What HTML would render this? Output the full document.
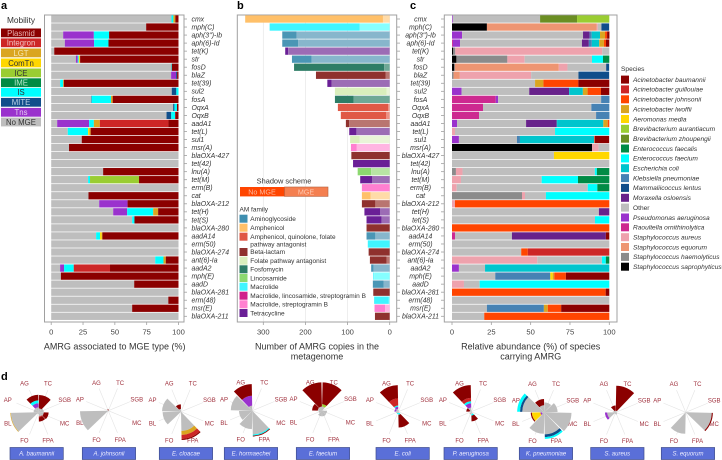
<!DOCTYPE html>
<html lang="en">
<head>
<meta charset="utf-8">
<title>AMRG mobility, copies, species and resistance profiles</title>
<style>
html,body{margin:0;padding:0;background:#fff;}
svg{display:block;font-family:"Liberation Sans",sans-serif;}
.pl{font-size:11px;font-weight:bold;fill:#000;}
.ax{font-size:9px;fill:#333;text-anchor:middle;}
.tk{font-size:7.6px;fill:#444;text-anchor:middle;}
.mb{font-size:7.8px;text-anchor:middle;}
.am{font-size:6.5px;fill:#333;}
.sp{font-size:6.6px;fill:#333;font-style:italic;}
.chip{font-size:6px;fill:#eef;font-style:italic;text-anchor:middle;}
</style>
</head>
<body>
<svg id="fig" width="722" height="460" viewBox="0 0 722 460" xmlns="http://www.w3.org/2000/svg">
<rect width="722" height="460" fill="#fff"/>

<text class="pl" x="1" y="9">a</text>
<text class="pl" x="237" y="9">b</text>
<text class="pl" x="410" y="9">c</text>
<text class="pl" x="1" y="380">d</text>

<g>
<text x="21" y="23" font-size="8.3" fill="#333" text-anchor="middle">Mobility</text>
<rect x="1" y="28.5" width="40" height="8.8" fill="#8b0000"/><text class="mb" x="21" y="35.8" fill="#e8b0b0">Plasmid</text>
<rect x="1" y="38.4" width="40" height="8.8" fill="#cd2626"/><text class="mb" x="21" y="45.6" fill="#f2c0c0">Integron</text>
<rect x="1" y="48.5" width="40" height="8.8" fill="#daa520"/><text class="mb" x="21" y="55.8" fill="#f6e6b0">LGT</text>
<rect x="1" y="58.5" width="40" height="8.8" fill="#ffd700"/><text class="mb" x="21" y="65.8" fill="#333">ComTn</text>
<rect x="1" y="68.5" width="40" height="8.8" fill="#9acd32"/><text class="mb" x="21" y="75.8" fill="#333">ICE</text>
<rect x="1" y="78.3" width="40" height="8.8" fill="#008b45"/><text class="mb" x="21" y="85.6" fill="#b8e8cc">IME</text>
<rect x="1" y="87.9" width="40" height="8.8" fill="#00ffff"/><text class="mb" x="21" y="95.2" fill="#333">IS</text>
<rect x="1" y="97.9" width="40" height="8.8" fill="#104e8b"/><text class="mb" x="21" y="105.2" fill="#c0d4e8">MITE</text>
<rect x="1" y="107.9" width="40" height="8.8" fill="#9a32cd"/><text class="mb" x="21" y="115.2" fill="#e6ccf2">Tns</text>
<rect x="1" y="117.6" width="40" height="8.8" fill="#bebebe"/><text class="mb" x="21" y="124.9" fill="#333">No MGE</text>
</g>

<g id="panelA"></g>
<g id="panelB"></g>
<g id="panelC"></g>
<g id="panelD"></g>

<text class="ax" x="114.7" y="349.5">AMRG associated to MGE type (%)</text>
<text class="ax" x="317" y="349.5">Number of AMRG copies in the</text>
<text class="ax" x="317" y="359.5">metagenome</text>
<text class="ax" x="530.7" y="349.5">Relative abundance (%) of species</text>
<text class="ax" x="530.7" y="359.5">carrying AMRG</text>

<g>
<text x="284" y="183.5" font-size="7.4" fill="#333" text-anchor="middle">Shadow scheme</text>
<rect x="240" y="187" width="44.5" height="9.4" fill="#ff4500"/>
<rect x="284.5" y="187" width="43.5" height="9.4" fill="#f47f50" stroke="#b5603c" stroke-width=".6"/>
<text x="262" y="194.3" font-size="7.2" fill="#ffb99c" text-anchor="middle">No MGE</text>
<text x="306" y="194.3" font-size="7.2" fill="#ffc9b0" text-anchor="middle">MGE</text>
</g>

<g>
<text class="am" x="239.5" y="211.5">AM family</text>
<rect x="239.5" y="214.7" width="8" height="8" fill="#3f8fb0"/><text class="am" x="250.3" y="221">Aminoglycoside</text>
<rect x="239.5" y="223.7" width="8" height="8" fill="#ffc069"/><text class="am" x="250.3" y="230">Amphenicol</text>
<rect x="239.5" y="232.7" width="8" height="8" fill="#e05846"/><text class="am" x="250.3" y="239">Amphenicol, quinolone, folate</text><text class="am" x="250.3" y="246.5">pathway antagonist</text>
<rect x="239.5" y="248" width="8" height="8" fill="#8f312e"/><text class="am" x="250.3" y="254.2">Beta-lactam</text>
<rect x="239.5" y="256.7" width="8" height="8" fill="#d9eebc"/><text class="am" x="250.3" y="263">Folate pathway antagonist</text>
<rect x="239.5" y="265.3" width="8" height="8" fill="#2e7d66"/><text class="am" x="250.3" y="271.6">Fosfomycin</text>
<rect x="239.5" y="274" width="8" height="8" fill="#8cd870"/><text class="am" x="250.3" y="280.3">Lincosamide</text>
<rect x="239.5" y="282.7" width="8" height="8" fill="#40f5ff"/><text class="am" x="250.3" y="289">Macrolide</text>
<rect x="239.5" y="291.7" width="8" height="8" fill="#d0228c"/><text class="am" x="250.3" y="298">Macrolide, lincosamide, streptogramin B</text>
<rect x="239.5" y="300.3" width="8" height="8" fill="#ff7fd0"/><text class="am" x="250.3" y="306.6">Macrolide, streptogramin B</text>
<rect x="239.5" y="309" width="8" height="8" fill="#6a1f96"/><text class="am" x="250.3" y="315.3">Tetracycline</text>
</g>

<g>
<text x="621" y="71" font-size="6.6" fill="#333">Species</text>
<rect x="621" y="75.6" width="8" height="8" fill="#8b0000"/><text class="sp" x="633" y="81.9">Acinetobacter baumannii</text>
<rect x="621" y="85.4" width="8" height="8" fill="#cd2626"/><text class="sp" x="633" y="91.7">Acinetobacter guillouiae</text>
<rect x="621" y="95.3" width="8" height="8" fill="#ff4500"/><text class="sp" x="633" y="101.6">Acinetobacter johnsonii</text>
<rect x="621" y="105.1" width="8" height="8" fill="#daa520"/><text class="sp" x="633" y="111.4">Acinetobacter lwoffii</text>
<rect x="621" y="115" width="8" height="8" fill="#ffd700"/><text class="sp" x="633" y="121.3">Aeromonas media</text>
<rect x="621" y="124.8" width="8" height="8" fill="#9acd32"/><text class="sp" x="633" y="131.1">Brevibacterium aurantiacum</text>
<rect x="621" y="134.7" width="8" height="8" fill="#6b8e23"/><text class="sp" x="633" y="141">Brevibacterium zhoupengii</text>
<rect x="621" y="144.5" width="8" height="8" fill="#008b45"/><text class="sp" x="633" y="150.8">Enterococcus faecalis</text>
<rect x="621" y="154.4" width="8" height="8" fill="#00ffff"/><text class="sp" x="633" y="160.7">Enterococcus faecium</text>
<rect x="621" y="164.2" width="8" height="8" fill="#00c5cd"/><text class="sp" x="633" y="170.5">Escherichia coli</text>
<rect x="621" y="174.1" width="8" height="8" fill="#4682b4"/><text class="sp" x="633" y="180.4">Klebsiella pneumoniae</text>
<rect x="621" y="183.9" width="8" height="8" fill="#104e8b"/><text class="sp" x="633" y="190.2">Mammaliicoccus lentus</text>
<rect x="621" y="193.8" width="8" height="8" fill="#68228b"/><text class="sp" x="633" y="200.1">Moraxella osloensis</text>
<rect x="621" y="203.6" width="8" height="8" fill="#bebebe"/><text class="sp" x="633" y="209.9" font-style="normal" style="font-style:normal">Other</text>
<rect x="621" y="213.5" width="8" height="8" fill="#9a32cd"/><text class="sp" x="633" y="219.8">Pseudomonas aeruginosa</text>
<rect x="621" y="223.3" width="8" height="8" fill="#cd2990"/><text class="sp" x="633" y="229.6">Raoultella ornithinolytica</text>
<rect x="621" y="233.2" width="8" height="8" fill="#eea2ad"/><text class="sp" x="633" y="239.5">Staphylococcus aureus</text>
<rect x="621" y="243" width="8" height="8" fill="#ee9572"/><text class="sp" x="633" y="249.3">Staphylococcus equorum</text>
<rect x="621" y="252.9" width="8" height="8" fill="#8b8b8b"/><text class="sp" x="633" y="259.2">Staphylococcus haemolyticus</text>
<rect x="621" y="262.7" width="8" height="8" fill="#000"/><text class="sp" x="633" y="269">Staphylococcus saprophyticus</text>
</g>

<g>
<rect x="10" y="447.5" width="53.3" height="12" fill="#5a6fd8" stroke="#3f4c8c" stroke-width=".7"/><text class="chip" x="36.7" y="455.7">A. baumannii</text>
<rect x="82.3" y="447.5" width="53.3" height="12" fill="#5a6fd8" stroke="#3f4c8c" stroke-width=".7"/><text class="chip" x="109" y="455.7">A. johnsonii</text>
<rect x="159.3" y="447.5" width="53.3" height="12" fill="#5a6fd8" stroke="#3f4c8c" stroke-width=".7"/><text class="chip" x="186" y="455.7">E. cloacae</text>
<rect x="224.3" y="447.5" width="53.3" height="12" fill="#5a6fd8" stroke="#3f4c8c" stroke-width=".7"/><text class="chip" x="251" y="455.7">E. hormaechei</text>
<rect x="296.3" y="447.5" width="53.3" height="12" fill="#5a6fd8" stroke="#3f4c8c" stroke-width=".7"/><text class="chip" x="323" y="455.7">E. faecium</text>
<rect x="376" y="447.5" width="53.3" height="12" fill="#5a6fd8" stroke="#3f4c8c" stroke-width=".7"/><text class="chip" x="402.7" y="455.7">E. coli</text>
<rect x="444" y="447.5" width="53.3" height="12" fill="#5a6fd8" stroke="#3f4c8c" stroke-width=".7"/><text class="chip" x="470.7" y="455.7">P. aeruginosa</text>
<rect x="519.3" y="447.5" width="53.3" height="12" fill="#5a6fd8" stroke="#3f4c8c" stroke-width=".7"/><text class="chip" x="546" y="455.7">K. pneumoniae</text>
<rect x="590.7" y="447.5" width="53.3" height="12" fill="#5a6fd8" stroke="#3f4c8c" stroke-width=".7"/><text class="chip" x="617.3" y="455.7">S. aureus</text>
<rect x="661.3" y="447.5" width="53.3" height="12" fill="#5a6fd8" stroke="#3f4c8c" stroke-width=".7"/><text class="chip" x="688" y="455.7">S. equorum</text>
</g>
</svg>

<script>
const genes = ["cmx","mph(C)","aph(3'')-Ib","aph(6)-Id","tet(K)","str","fosD","blaZ","tet(39)","sul2","fosA","OqxA","OqxB","aadA1","tet(L)","sul1","msr(A)","blaOXA-427","tet(42)","lnu(A)","tet(M)","erm(B)","cat","blaOXA-212","tet(H)","tet(S)","blaOXA-280","aadA14","erm(50)","blaOXA-274","ant(6)-Ia","aadA2","mph(E)","aadD","blaOXA-281","erm(48)","msr(E)","blaOXA-211"];

const mobilityOrder = ["no","tns","mite","is","ime","ice","com","lgt","int","pla"];

const mobilityShares = [
{no:94.5,is:1.5,lgt:1.5,pla:2.5},
{no:74.6,pla:25.4},
{no:9.4,tns:24.1,is:12,pla:54.5},
{no:10.7,tns:23,is:11.3,pla:55},
{no:2.4,pla:97.6},
{no:19.4,tns:1.5,is:.8,com:1,pla:77.3},
{no:94.2,is:.5,pla:5.3},
{no:94.2,tns:3.9,mite:.8,pla:1.1},
{no:7,is:2.4,com:.4,pla:90.2},
{no:94.7,mite:3.6,is:1.7},
{no:31.4,mite:.4,is:15.2,lgt:1.3,pla:51.7},
{no:95.8,mite:1,is:2,pla:1.2},
{no:90.6,mite:3.7,is:3.1,pla:2.6},
{no:4.7,tns:25.1,is:3.7,lgt:4.7,int:53.9,pla:7.9},
{no:13,is:16,com:1,lgt:1,pla:69},
{no:24,pla:76},
{no:14,pla:86},
{no:100},
{no:100},
{no:40.8,pla:59.2},
{no:29,is:1.5,ice:38.5,pla:31},
{no:100},
{no:29.3,pla:70.7},
{no:37.7,tns:22.3,pla:40},
{no:48.7,tns:11,is:20.4,lgt:3.9,pla:16},
{no:63.6,is:1.8,pla:34.6},
{no:100},
{no:35.3,is:3.1,com:1.3,lgt:.5,pla:59.8},
{no:100},
{no:100},
{no:81.7,is:6.5,lgt:1.8,pla:10},
{no:7,tns:3.1,is:7.6,int:28.5,pla:53.8},
{no:7.6,pla:92.4},
{no:65.2,pla:34.8},
{no:100},
{no:92,pla:8},
{no:63.6,pla:36.4},
{no:100}
];

const copiesTotal = [343,285,255,255,248,232,227,175,148,130,130,123,116,104,96,94,92,91,87,76,70,66,66,66,60,55,55,55,52,50,47,44,39,40,39,37,36,35];

const copiesNoMge = [327,214,34,38,7,47,214,165,10,123,44,119,108,8,17,23,14,91,87,32,28,66,21,32,37,36,55,21,52,50,40,6,2,26,39,35,25,35];

const geneFamily = ["amph","macro","amino","amino","tetra","amino","fosfo","beta","tetra","folate","fosfo","ampq","ampq","beta","tetra","folate","macstr","beta","tetra","linco","tetra","macstr","amph","beta","tetra","tetra","beta","amino","macro","beta","beta","amino","macro","amino","beta","macro","macstr","beta"];

const abundanceOrder = ["sap","hae","equ","sta","rao","pse","oth","mox","mam","kle","eco","efm","efs","zho","bra","med","lwo","joh","gui","bau"];

const abundanceShares = [
{pse:.5,oth:55.5,zho:23.5,bra:20.5},
{sap:22.2,equ:69.7,sta:.8,oth:2.3,mam:4.9},
{pse:6.4,oth:76.9,mox:4.2,kle:1.3,eco:5.3,lwo:3.2,joh:1.3,bau:1.5},
{rao:.6,pse:4.5,oth:77.5,mox:4.4,kle:1.9,eco:4.7,lwo:3,joh:1.3,bau:2.1},
{sap:.8,hae:1.3,sta:93.4,oth:4.5},
{sap:2.8,hae:32.4,sta:11,oth:42.8,efm:7,efs:4},
{sap:1.5,hae:.3,equ:66.1,sta:5.5,oth:24.6,mam:1.9},
{hae:1,equ:4,sta:45.3,oth:30.1,mam:19.5},
{oth:52.8,lwo:5.3,joh:22.2,bau:19.7},
{pse:6.1,oth:43,mox:25.4,eco:8.7,lwo:3,joh:8.5,bau:5.3},
{rao:27.8,pse:1.5,oth:65.5,kle:5.3},
{rao:19.7,oth:68.9,kle:11.4},
{rao:17.2,oth:74.4,kle:8.5},
{pse:3.2,oth:43.9,mox:19.3,kle:.4,eco:29.4,lwo:2.8,joh:1},
{sta:1.9,oth:63.6,efm:34.5},
{pse:4.4,oth:36.9,kle:1.9,eco:47.2,joh:.4,bau:9.1},
{sap:89,sta:4.2,oth:6.8},
{oth:64.8,med:35.2},
{oth:100},
{hae:2.5,sta:4.2,oth:84.1,efm:1.3,efs:7.9},
{sta:5.7,oth:51.3,efm:23.1,efs:19.9},
{sta:3,oth:83.3,efm:6.1,efs:7.6},
{hae:44.5,sta:1.9,oth:13.3,efm:40.3},
{sta:1.9,joh:98.1},
{oth:93.4,mox:6.6},
{oth:90.9,efm:9.1},
{joh:100},
{rao:1.9,oth:36.2,mox:59.7,bau:2.2},
{oth:100},
{oth:44,joh:4.2,gui:51.8},
{sta:54.2,oth:41.1,efm:2.5,efs:2.2},
{pse:4.4,oth:16.6,eco:79},
{oth:27.5,kle:35,med:1.5,lwo:1,joh:7.4,bau:27.6},
{sta:7.6,oth:10,efm:82.4},
{joh:97.7,bau:2.3},
{oth:100},
{oth:22.2,kle:36.2,lwo:2.5,joh:8.5,bau:30.6},
{oth:20.5,joh:79.5}
];

const percentTicks = [0,25,50,75,100];

const copyTicks = [300,200,100,0];

const roseSectors = ["AG","TC","SGB","MC","FPA","FO","BL","AP"];

const roseSpecies = ["A. baumannii","A. johnsonii","E. cloacae","E. hormaechei","E. faecium","E. coli","P. aeruginosa","K. pneumoniae","S. aureus","S. equorum"];

const roseBaumannii = [{no:18,tns:14,is:10,pla:20},{no:14,pla:47},{no:18},{no:18,pla:17},{no:15,int:3,pla:15},{no:7},{no:98,lgt:2},{no:18}];

const roseJohnsonii = [{no:2,pla:3},{pla:4},{},{},{},{},{no:100},{}];

const roseCloacae = [{no:10,pla:16},{},{},{},{no:68,lgt:14,int:14,pla:4},{},{no:65},{no:67}];

const roseHormaechei = [{no:18,tns:35,pla:41},{},{},{},{no:84,is:4,pla:3},{no:65},{no:47},{no:76}];

const roseFaecium = [{no:15,pla:85},{no:15,ice:8,pla:77},{},{no:18},{no:20},{no:20},{no:12},{no:15,pla:20}];

const roseColi = [{no:10,tns:8,is:4,int:25,pla:47},{no:5},{},{},{no:5,is:6,pla:45},{no:5,is:3},{no:8},{no:8,tns:6}];

const rosePseudomonas = [{no:15,tns:15,is:7,int:12,pla:45},{no:4},{},{},{no:8,is:6,pla:20},{no:10},{},{no:6,pla:12}];

const roseKlebsiella = [{no:25,pla:22},{no:35},{no:47},{no:96},{no:78,is:6,mite:10},{no:76},{no:8,tns:6,com:30,pla:4},{no:78,mite:8,is:10}];

const roseAureus = [{no:6,pla:18},{no:6,pla:88},{},{no:5},{no:8},{no:6},{no:30,tns:8},{no:8}];

const roseEquorum = [{},{},{},{no:92,pla:4},{},{no:76},{},{}];

const NS = "http://www.w3.org/2000/svg";
const mobilityColors = {no:"#bebebe",tns:"#9a32cd",mite:"#104e8b",is:"#00ffff",ime:"#008b45",ice:"#9acd32",com:"#ffd700",lgt:"#daa520",int:"#cd2626",pla:"#8b0000"};
const speciesColors = {sap:"#000000",hae:"#8b8b8b",equ:"#ee9572",sta:"#eea2ad",rao:"#cd2990",pse:"#9a32cd",oth:"#bebebe",mox:"#68228b",mam:"#104e8b",kle:"#4682b4",eco:"#00c5cd",efm:"#00ffff",efs:"#008b45",zho:"#6b8e23",bra:"#9acd32",med:"#ffd700",lwo:"#daa520",joh:"#ff4500",gui:"#cd2626",bau:"#8b0000"};
const familyDark = {amino:"#4a96b5",amph:"#ffc069",ampq:"#e05846",beta:"#8f312e",folate:"#d9eebc",fosfo:"#2e7d66",linco:"#8cd870",macro:"#40f5ff",mls:"#d0228c",macstr:"#ff7fd0",tetra:"#6a1f96"};
const familyLight = {amino:"#87b6cc",amph:"#ffdba8",ampq:"#ec9184",beta:"#b97570",folate:"#e9f4d8",fosfo:"#6fa896",linco:"#b8e4a4",macro:"#85ffff",mls:"#e07ab8",macstr:"#ffb5e2",tetra:"#9c6cb5"};

function make(parent, tag, attrs, text) {
  const el = document.createElementNS(NS, tag);
  for (const k in attrs) el.setAttribute(k, attrs[k]);
  if (text !== undefined) el.textContent = text;
  parent.appendChild(el);
  return el;
}
function linear(d0, d1, r0, r1) {
  return v => r0 + (v - d0) * (r1 - r0) / (d1 - d0);
}
const rowY = i => 19 + i * 8.035;
const BAR_H = 7.3;
const FRAME = "#a0a0a0";
const xA = linear(0, 100, 51.2, 178.5);
const xB = linear(0, 300, 389.7, 263.3);
const xC = linear(0, 100, 452, 609.3);

function frame(g, x0, x1, name) {
  const r = make(g, "rect", {x:x0, y:15, width:x1-x0, height:307, fill:"none", stroke:FRAME, "stroke-width":1});
  
  
}
function bottomTicks(g, ticks, scale, prefix) {
  ticks.forEach(t => {
    const m = make(g, "line", {x1:scale(t), x2:scale(t), y1:322, y2:325, stroke:FRAME, "stroke-width":.8});
    
    
    const l = make(g, "text", {class:"tk", x:scale(t), y:334.5}, String(t));
    
    
  });
}
function stack(g, row, order, colors, scale, y, name) {
  let cum = 0;
  order.forEach(k => {
    const v = row[k];
    if (!v) return;
    const x0 = scale(cum), x1 = scale(cum + v);
    const r = make(g, "rect", {x:x0, y:y-BAR_H/2, width:Math.max(0,x1-x0), height:BAR_H, fill:colors[k]});
    
    
    cum += v;
  });
}

/* panel a */
const pa = document.getElementById("panelA");
frame(pa, 44.5, 184, "mobility-plot-frame");
mobilityShares.forEach((row, i) => {
  stack(pa, row, mobilityOrder, mobilityColors, xA, rowY(i), 'mobility-bar');
  const t = make(pa, "line", {x1:184, x2:187, y1:rowY(i), y2:rowY(i), stroke:FRAME, "stroke-width":.8});
  
  
  const l = make(pa, "text", {x:191.5, y:rowY(i)+2.4, "font-size":6.9, "font-style":"italic", fill:"#333"}, genes[i]);
  
  
});
bottomTicks(pa, percentTicks, xA, 'mobility');

/* panel b */
const pb = document.getElementById("panelB");
copyTicks.forEach(t => {
  const g = make(pb, "line", {x1:xB(t), x2:xB(t), y1:15, y2:322, stroke:"#e6e6e6", "stroke-width":.7});
  
  
});
frame(pb, 237.3, 396.7, "copies-plot-frame");
copiesTotal.forEach((total, i) => {
  const fam = geneFamily[i];
  const split = copiesNoMge[i];
  const d = make(pb, "rect", {x:xB(total), y:rowY(i)-BAR_H/2, width:Math.max(0,xB(total-split)-xB(total)), height:BAR_H, fill:familyDark[fam]});
  
  
  const m = make(pb, "rect", {x:xB(total-split), y:rowY(i)-BAR_H/2, width:Math.max(0,xB(0)-xB(total-split)), height:BAR_H, fill:familyLight[fam]});
  
  
  const t = make(pb, "line", {x1:396.7, x2:400, y1:rowY(i), y2:rowY(i), stroke:FRAME, "stroke-width":.8});
  
  
  const l = make(pb, "text", {x:420.5, y:rowY(i)+2.4, "font-size":6.9, "font-style":"italic", fill:"#333", "text-anchor":"middle"}, genes[i]);
  
  
});
bottomTicks(pb, copyTicks, xB, 'copies');

/* panel c */
const pc = document.getElementById("panelC");
frame(pc, 444.3, 617, "abundance-plot-frame");
abundanceShares.forEach((row, i) => {
  stack(pc, row, abundanceOrder, speciesColors, xC, rowY(i), 'abundance-bar');
  const t = make(pc, "line", {x1:441, x2:444.3, y1:rowY(i), y2:rowY(i), stroke:FRAME, "stroke-width":.8});
  
  
});
bottomTicks(pc, percentTicks, xC, 'abundance');

/* panel d */
const roseValues = [roseBaumannii,roseJohnsonii,roseCloacae,roseHormaechei,roseFaecium,roseColi,rosePseudomonas,roseKlebsiella,roseAureus,roseEquorum];
const roseLayout = [
  [38.7,412.3,36.2,411.7],[108.3,410.7,108.3,411.3],[181,411.7,181,411.7],[252.3,410.7,252.5,411],[322,410.7,322,410.7],
  [398.3,411.7,398.3,411.7],[471.3,411.7,471.3,411.7],[544.3,412.3,544.3,412.3],[615.7,412.3,615.7,412.3],[685.7,412.3,685.7,412.3]
];
const rScale = linear(0, 100, 0, 28.3);
function polar(cx, cy, r, deg) {
  const a = deg * Math.PI / 180;
  return [cx + r * Math.sin(a), cy - r * Math.cos(a)];
}
function wedge(cx, cy, r0, r1, a0, a1) {
  const p0 = polar(cx, cy, r1, a0), p1 = polar(cx, cy, r1, a1);
  const p2 = polar(cx, cy, r0, a1), p3 = polar(cx, cy, r0, a0);
  return "M" + p3[0] + " " + p3[1] + "L" + p0[0] + " " + p0[1] + "A" + r1 + " " + r1 + " 0 0 1 " + p1[0] + " " + p1[1] + "L" + p2[0] + " " + p2[1] + "A" + r0 + " " + r0 + " 0 0 0 " + p3[0] + " " + p3[1] + "Z";
}
const pd = document.getElementById("panelD");
roseValues.forEach((rose, c) => {
  const [cx, cy, lx, ly] = roseLayout[c];
  const g = make(pd, "g", {});
  
  
  roseSectors.forEach((name, s) => {
    const centre = -22.5 + s * 45;
    const end = polar(cx, cy, 24, centre);
    const sp = make(g, "line", {x1:cx, y1:cy, x2:end[0], y2:end[1], stroke:"#e4e4e4", "stroke-width":.6});
    
    
    const lp = polar(lx, ly, 30.8, centre);
    const t = make(g, "text", {x:lp[0], y:lp[1]+2.1, "font-size":6, fill:"#a0313d", "text-anchor":"middle"}, name);
    
    
  });
  rose.forEach((row, s) => {
    const centre = -22.5 + s * 45;
    let cum = 0;
    mobilityOrder.forEach(k => {
      const v = row[k];
      if (!v) return;
      const w = make(g, "path", {d:wedge(cx, cy, rScale(cum), rScale(cum + v), centre - 21.3, centre + 21.3), fill:mobilityColors[k]});
      
      
      cum += v;
    });
  });
});
</script>
</body>
</html>
